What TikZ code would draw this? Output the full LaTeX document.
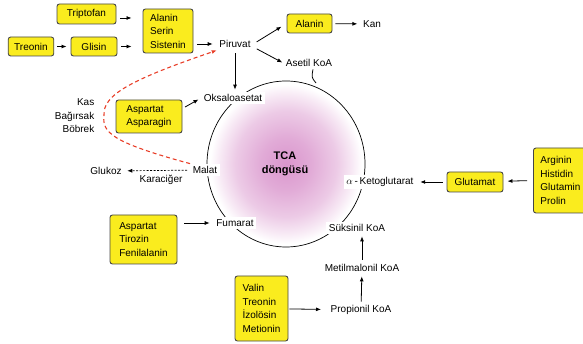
\documentclass[tikz,border=0pt]{standalone}
\usepackage{fontspec}
\setmainfont{Liberation Sans}
\usetikzlibrary{arrows.meta}

\definecolor{boxyellow}{RGB}{250,236,30}
\definecolor{boxline}{RGB}{70,70,70}
\definecolor{tcapink}{RGB}{218,150,205}
\definecolor{dashred}{RGB}{232,62,40}
\pgfdeclareradialshading{tcashade}{\pgfpointorigin}{color(0bp)=(tcapink); color(8bp)=(tcapink!80!white); color(16bp)=(tcapink!50!white); color(21bp)=(tcapink!20!white); color(24bp)=(white); color(25bp)=(white); color(50bp)=(white)}

\begin{document}
\begin{tikzpicture}[x=1pt, y=-1pt,
        font=\fontsize{10}{13.5}\selectfont,
        amino/.style={draw=boxline, fill=boxyellow, line width=0.9pt, rounded corners=2.5pt, align=left, inner xsep=6pt},
        met/.style={inner sep=2.5pt},
        oncycle/.style={met, fill=white},
        arr/.style={-{Latex[length=5pt,width=4pt]}, line width=0.8pt}]
            \useasboundingbox (0,0) rectangle (583,344);

            % TCA cycle
            \shade[shading=tcashade] (286,164) ellipse [x radius=79pt, y radius=83pt];
            \draw[line width=0.7pt] (286,164) ellipse [x radius=79pt, y radius=83pt];
            \node[font=\bfseries\fontsize{11}{14}\selectfont, align=center] (tca) at (285,164) {TCA\\döngüsü};

            \node[met] (piruvat) at (235,44) {Piruvat};
            \node[met] (asetil) at (309,63) {Asetil KoA};
            \node[met] (kan) at (372,24) {Kan};
            \node[oncycle] (oksalo) at (233,98) {Oksaloasetat};
            \node[oncycle] (malat) at (205,170) {Malat};
            \node[oncycle] (fumarat) at (235,223) {Fumarat};
            \node[oncycle] (suksinil) at (357,228) {Süksinil KoA};
            \node[oncycle] (akg) at (380,182) {$\alpha$\,-\,Ketoglutarat};
            \node[met] (metil) at (362,268) {Metilmalonil KoA};
            \node[met] (propionil) at (361,310) {Propionil KoA};
            \node[met] (glukoz) at (106,171) {Glukoz};
            \node[met] (karaciger) at (161,180) {Karaciğer};
            \node[met, align=right, anchor=east] (organs) at (97,116) {Kas\\Bağırsak\\Böbrek};

            % amino acids
            \node[amino, minimum width=59pt, minimum height=20pt] (tript) at (86.5,14) {Triptofan};
            \node[amino, minimum width=44pt, minimum height=19pt] (treonin) at (31,46.5) {Treonin};
            \node[amino, minimum width=46pt, minimum height=19pt] (glisin) at (94,46.5) {Glisin};
            \node[amino, minimum width=50pt, minimum height=44pt] (asb) at (168,31) {Alanin\\Serin\\Sistenin};
            \node[amino, minimum width=45pt, minimum height=19pt] (alanin) at (309.5,23.5) {Alanin};
            \node[amino, minimum width=66pt, minimum height=33pt] (aspbox) at (149,116.5) {Aspartat\\Asparagin};
            \node[amino, minimum width=67pt, minimum height=49pt] (atfbox) at (143.5,239.5) {Aspartat\\Tirozin\\Fenilalanin};
            \node[amino, minimum width=56pt, minimum height=20pt] (glutamat) at (475,182) {Glutamat};
            \node[amino, minimum height=65pt, inner xsep=7pt, text width=46pt, anchor=west] (arginin) at (533,180.5) {Arginin\\Histidin\\Glutamin\\Prolin};
            \node[amino, minimum width=53pt, minimum height=65pt] (valinbox) at (261.5,308.5) {Valin\\Treonin\\İzolösin\\Metionin};

            \draw[arr, shorten <=4pt, shorten >=11pt] ([yshift=-4pt]tript.east) -- ([yshift=13pt]asb.west);
            \draw[arr, shorten <=3pt, shorten >=4pt] (treonin) -- (glisin);
            \draw[arr, shorten <=4pt, shorten >=11pt] (glisin.east) -- (glisin.east -| asb.west);
            \draw[arr, shorten <=4pt, shorten >=4pt] (asb.east |- piruvat) -- (piruvat);
            \draw[arr, shorten <=4pt, shorten >=6pt] (piruvat.east) -- (alanin.west);
            \draw[arr, shorten <=4pt, shorten >=1pt] ([yshift=-3pt]piruvat.east) -- (asetil.west);
            \draw[arr, shorten <=3pt, shorten >=3pt] (alanin) -- (kan);
            \draw[line width=0.8pt] ([xshift=4pt]asetil.south) .. controls +(-1.5,8) .. (316,83);
            \draw[arr, shorten <=3pt, shorten >=2pt] (piruvat.south) -- (piruvat.south |- oksalo.north);
            \draw[arr, shorten <=3pt, shorten >=3pt] ([yshift=8pt]aspbox.east) -- (oksalo.west);
            \draw[arr, dashred, dashed, line width=1.1pt, dash pattern=on 4pt off 3pt] (malat.north west) .. controls (110,142) and (102,132) .. (104,115) .. controls (103,95) and (130,80) .. (piruvat.south west);
            \draw[arr, dashed, line width=0.7pt, dash pattern=on 2pt off 1.5pt, shorten <=3pt, shorten >=3pt] (malat) -- (glukoz);
            \draw[arr, shorten <=7pt, shorten >=4pt] (atfbox.east |- fumarat) -- (fumarat);
            \draw[arr, shorten <=4pt, shorten >=4pt] (glutamat) -- (akg);
            \draw[arr, shorten <=6pt, shorten >=4pt] (arginin.west) -- (glutamat);
            \draw[arr, shorten <=2pt, shorten >=2pt] (metil.north) -- (metil.north |- suksinil.south);
            \draw[arr, shorten <=1pt, shorten >=2pt] (propionil) -- (metil);
            \draw[arr, shorten <=1pt, shorten >=7pt] (valinbox) -- (propionil);
        \end{tikzpicture}
\end{document}
